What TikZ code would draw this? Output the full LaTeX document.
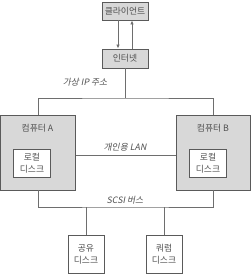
\documentclass[tikz,border=0pt]{standalone}
\usepackage{fontspec}
\setmainfont{Noto Sans CJK KR}
\newfontfamily\slantkr{Noto Sans CJK KR}[FakeSlant=0.2]
\usetikzlibrary{arrows.meta, positioning}
\definecolor{boxgray}{RGB}{216,216,216}
\definecolor{edgegray}{RGB}{90,90,90}
\definecolor{wiregray}{RGB}{110,110,110}
\definecolor{textgray}{RGB}{80,80,80}

\begin{document}
\begin{tikzpicture}[x=1pt, y=-1pt,
  font=\fontsize{8.8}{12}\selectfont, text=textgray,
  graybox/.style={draw=edgegray, fill=boxgray, line width=0.9pt, inner sep=0pt},
  diskbox/.style={draw=edgegray, fill=white, line width=0.9pt, inner sep=0pt,
    align=center, minimum width=37pt, minimum height=28pt},
  wire/.style={draw=wiregray, line width=0.9pt},
  busname/.style={font=\slantkr\fontsize{8.8}{10}\selectfont}]
  \useasboundingbox (0,0) rectangle (251,274);
  % client and internet
  \node[graybox, minimum width=46pt, minimum height=18pt] (client) at (125,11) {클라이언트};
  \node[graybox, minimum width=46pt, minimum height=19pt] (inet) at (125,58.5) {인터넷};
  \draw[wire, -{Latex[length=4pt, width=3.5pt]}] ([xshift=-7pt]client.south) -- ([xshift=-7pt]inet.north);
  \draw[wire, -{Latex[length=4pt, width=3.5pt]}] ([xshift=7pt]inet.north) -- ([xshift=7pt]client.south);
  % computers
  \node[graybox, minimum width=75pt, minimum height=75pt] (compA) at (38,152.5) {};
  \node[graybox, minimum width=74.5pt, minimum height=75pt] (compB) at (213.25,152.5) {};
  \node (compAname) at (37.5,128) {컴퓨터 A};
  \node (compBname) at (213,128) {컴퓨터 B};
  \node[diskbox] (localA) at (32,163) {로컬\\디스크};
  \node[diskbox] (localB) at (208,163) {로컬\\디스크};
  % shared disks
  \node[diskbox, minimum width=36pt, minimum height=38pt] (shared) at (86,254) {공유\\디스크};
  \node[diskbox, minimum width=36pt, minimum height=38pt] (quorum) at (164,254) {쿼럼\\디스크};
  % virtual IP
  \coordinate (vip) at (125,98);
  \draw[wire] (inet.south) -- (vip);
  \draw[wire] (compA.north) |- (vip) -| (compB.north);
  \node[busname] (vipname) at (85,82) {가상 IP 주소};
  % private LAN
  \coordinate (lan) at (125,155);
  \draw[wire] (compA.east |- lan) -- (compB.west |- lan);
  \node[busname] (lanname) at (125,147) {개인용 LAN};
  % SCSI bus
  \coordinate (scsi) at (125,207);
  \draw[wire] (compA.south) |- (scsi) -| (compB.south);
  \draw[wire] (shared.north) -- (shared.north |- scsi);
  \draw[wire] (quorum.north) -- (quorum.north |- scsi);
  \node[busname] (scsiname) at (125,200) {SCSI 버스};
\end{tikzpicture}
\end{document}
